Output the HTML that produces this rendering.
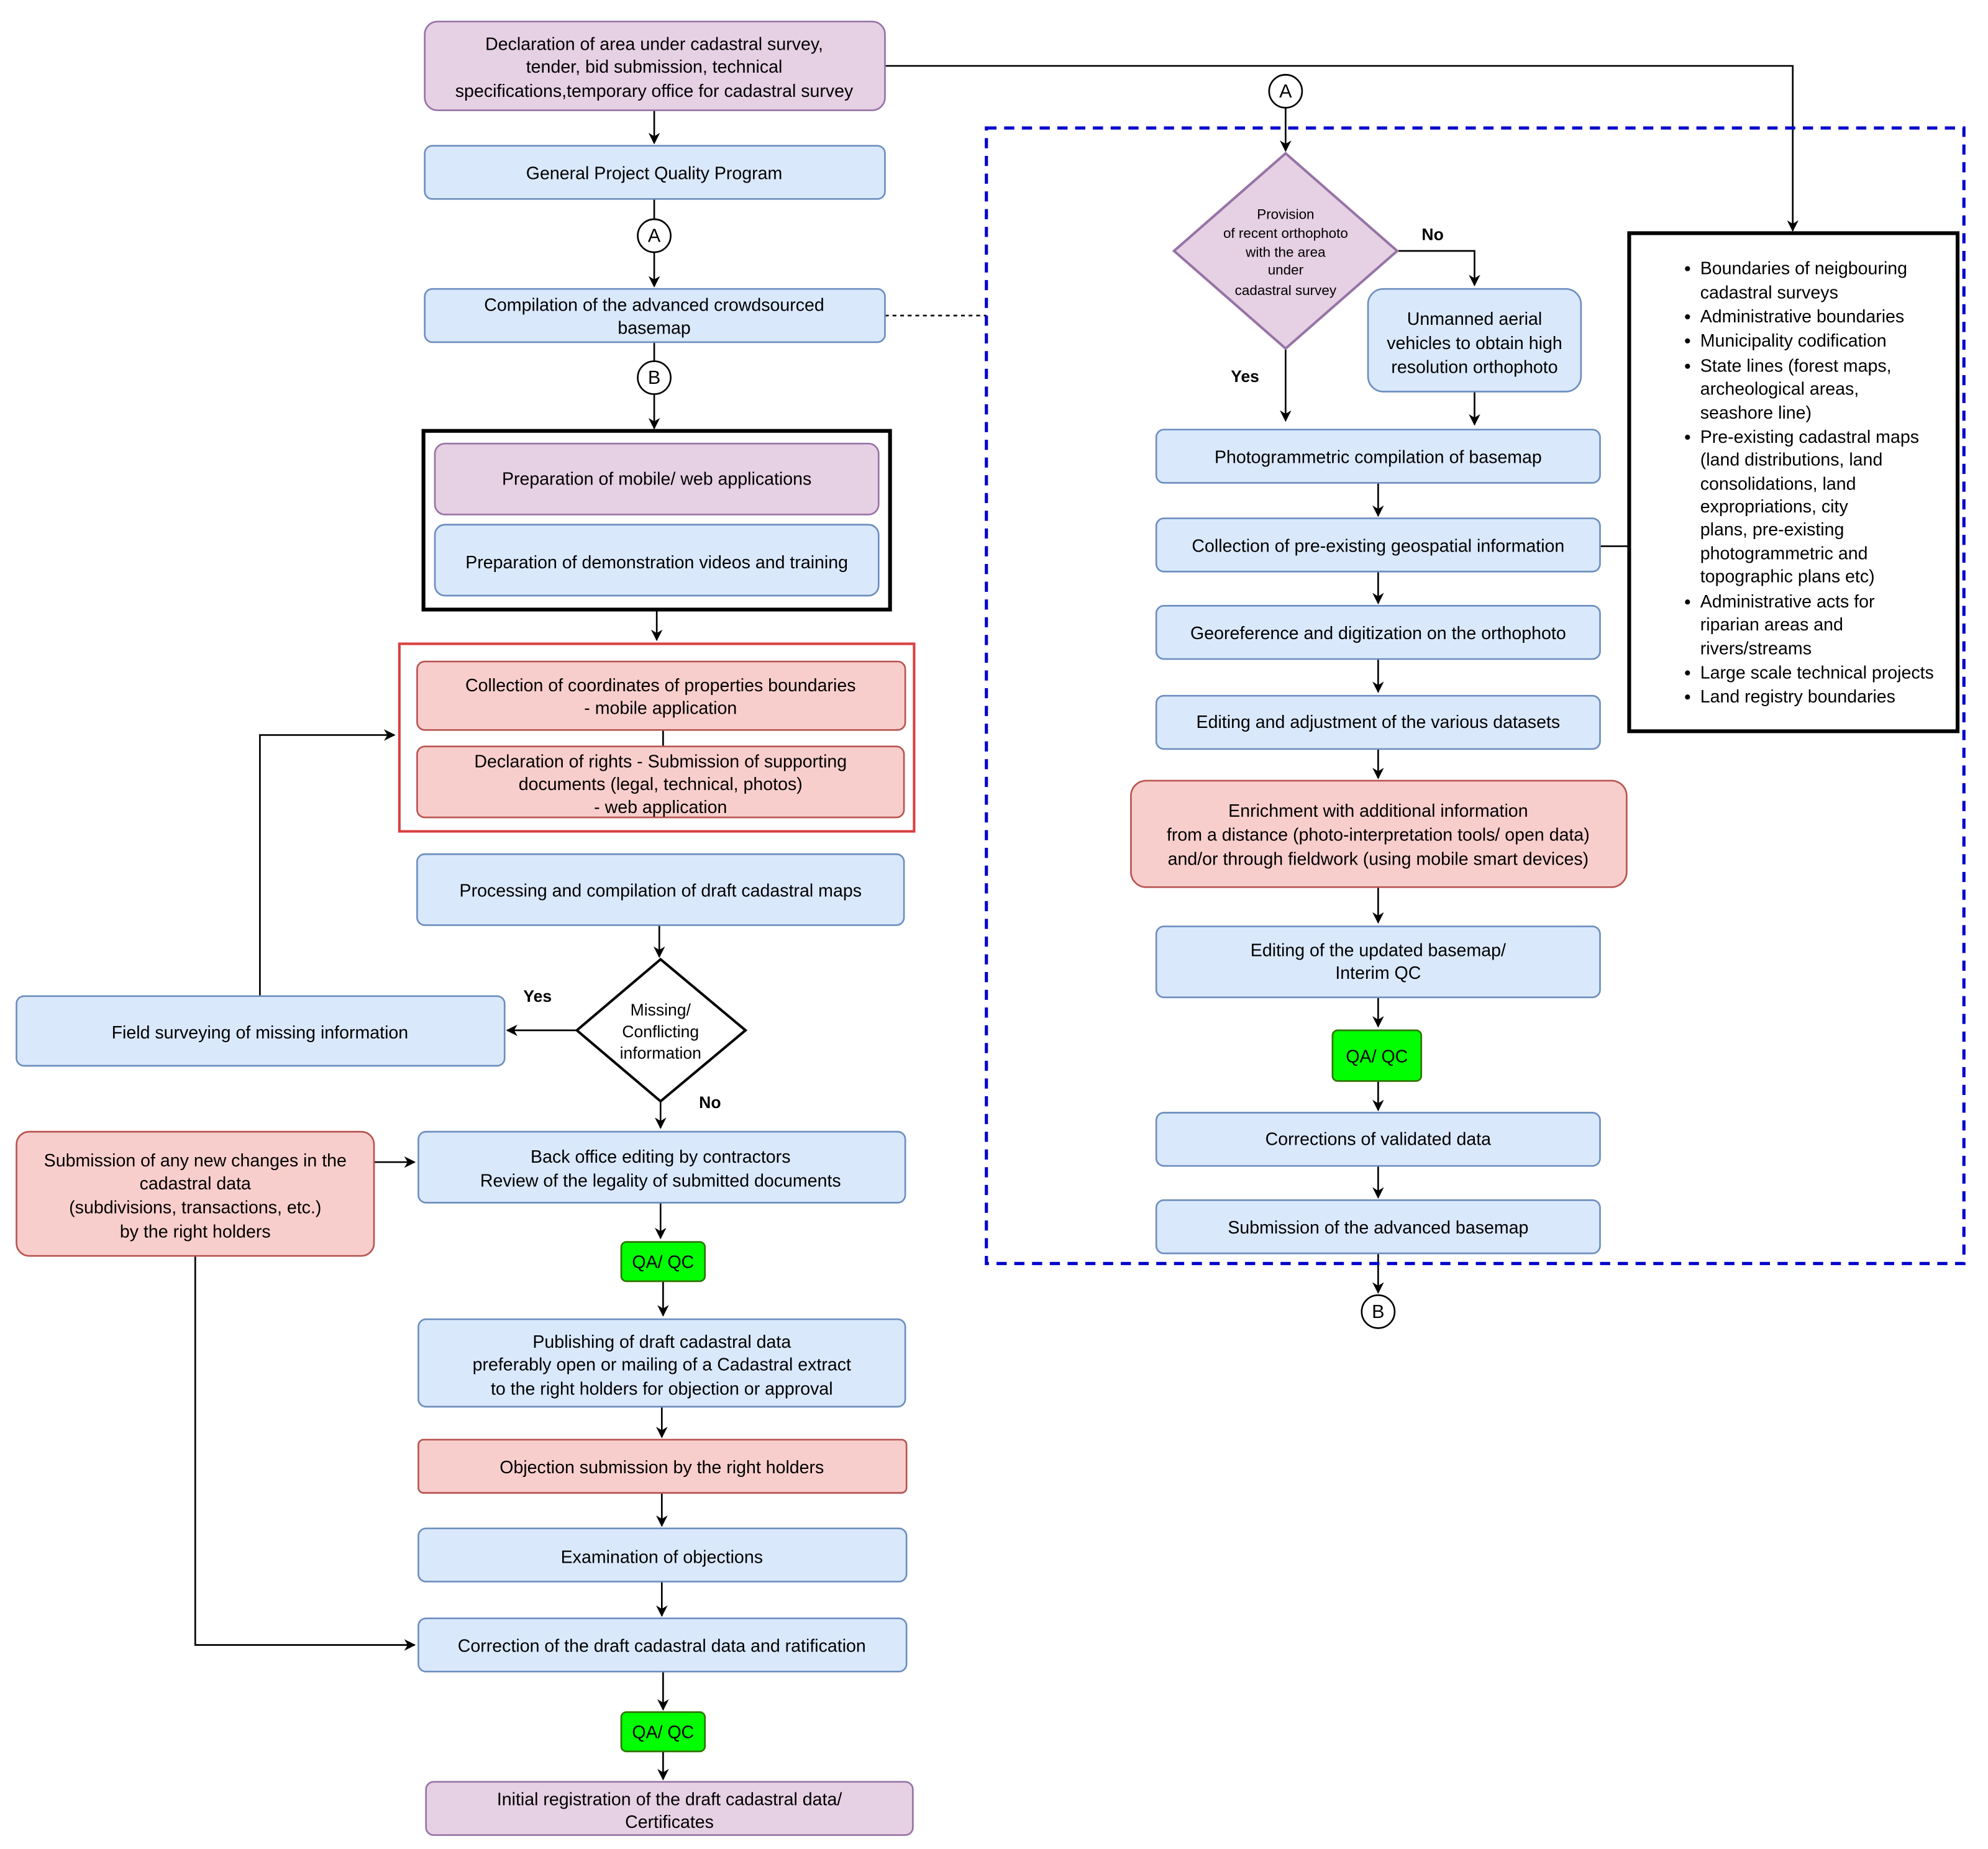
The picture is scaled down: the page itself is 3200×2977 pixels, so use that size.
<!DOCTYPE html>
<html><head><meta charset="utf-8"><style>html,body{margin:0;padding:0;background:#fff}svg{display:block}</style></head><body>
<svg width="3200" height="2977" viewBox="0 0 1568 1459" preserveAspectRatio="none" xmlns="http://www.w3.org/2000/svg" font-family="Liberation Sans, Arial, sans-serif" font-size="14">
<defs><marker id="ar" viewBox="0 0 10 10" refX="9" refY="5" markerWidth="7" markerHeight="7" orient="auto"><path d="M0,0L10,5L0,10L3,5z" fill="#000"/></marker></defs>
<g fill="none" stroke="#000" stroke-width="1.3">
<path d="M516,87V113" marker-end="url(#ar)"/>
<path d="M516,157V173"/><path d="M516,199V226" marker-end="url(#ar)"/>
<path d="M516,270V285"/><path d="M516,311V338" marker-end="url(#ar)"/>
<path d="M518,481V505" marker-end="url(#ar)"/>
<path d="M523,576V589"/>
<path d="M205,786V580H311" marker-end="url(#ar)"/>
<path d="M520,730V755" marker-end="url(#ar)"/>
<path d="M455,813H400" marker-end="url(#ar)"/>
<path d="M521,869V890" marker-end="url(#ar)"/>
<path d="M295,917H327" marker-end="url(#ar)"/>
<path d="M154,991V1298H327" marker-end="url(#ar)"/>
<path d="M521,949V977" marker-end="url(#ar)"/>
<path d="M523,1011V1038" marker-end="url(#ar)"/>
<path d="M522,1110V1134" marker-end="url(#ar)"/>
<path d="M522,1178V1204" marker-end="url(#ar)"/>
<path d="M522,1248V1275" marker-end="url(#ar)"/>
<path d="M523,1319V1349" marker-end="url(#ar)"/>
<path d="M523,1382V1404" marker-end="url(#ar)"/>
<path d="M698,52H1414V182" marker-end="url(#ar)"/>
<path d="M698,249H778" stroke-dasharray="3,3"/>
<path d="M1014,85V119" marker-end="url(#ar)"/>
<path d="M1102,198H1163V225" marker-end="url(#ar)"/>
<path d="M1014,275V332" marker-end="url(#ar)"/>
<path d="M1163,309V335" marker-end="url(#ar)"/>
<path d="M1087,381V407" marker-end="url(#ar)"/>
<path d="M1262,431H1285"/>
<path d="M1087,451V476" marker-end="url(#ar)"/>
<path d="M1087,520V546" marker-end="url(#ar)"/>
<path d="M1087,591V614" marker-end="url(#ar)"/>
<path d="M1087,700V728" marker-end="url(#ar)"/>
<path d="M1087,787V810" marker-end="url(#ar)"/>
<path d="M1087,853V876" marker-end="url(#ar)"/>
<path d="M1087,920V945" marker-end="url(#ar)"/>
<path d="M1087,989V1020" marker-end="url(#ar)"/>
</g>
<rect x="778" y="101" width="771" height="896" fill="none" stroke="#0000cc" stroke-width="2.5" stroke-dasharray="8,6"/>
<g stroke-width="1.3">
<rect x="335" y="17" width="363" height="70" rx="10" fill="#e6d0e3" stroke="#9673a6"/>
<rect x="335" y="115" width="363" height="42" rx="6" fill="#dae8fc" stroke="#6c8ebf"/>
<rect x="335" y="228" width="363" height="42" rx="6" fill="#dae8fc" stroke="#6c8ebf"/>
<rect x="334" y="340" width="368" height="141" fill="#fff" stroke="#000" stroke-width="3"/>
<rect x="343" y="350" width="350" height="56" rx="8" fill="#e6d0e3" stroke="#9673a6"/>
<rect x="343" y="414" width="350" height="56" rx="8" fill="#dae8fc" stroke="#6c8ebf"/>
<rect x="315" y="508" width="406" height="148" fill="none" stroke="#d94040" stroke-width="2"/>
<rect x="329" y="522" width="385" height="54" rx="6" fill="#f8cecc" stroke="#b85450"/>
<rect x="329" y="589" width="384" height="56" rx="6" fill="#f8cecc" stroke="#b85450"/>
<rect x="329" y="674" width="384" height="56" rx="6" fill="#dae8fc" stroke="#6c8ebf"/>
<path d="M521,757L588,813L521,869L455,813Z" fill="#fff" stroke="#000" stroke-width="2"/>
<rect x="13" y="786" width="385" height="55" rx="6" fill="#dae8fc" stroke="#6c8ebf"/>
<rect x="330" y="893" width="384" height="56" rx="6" fill="#dae8fc" stroke="#6c8ebf"/>
<rect x="13" y="893" width="282" height="98" rx="10" fill="#f8cecc" stroke="#b85450"/>
<rect x="490" y="980" width="66" height="31" rx="4" fill="#00ff00" stroke="#2d7600"/>
<rect x="330" y="1041" width="384" height="69" rx="6" fill="#dae8fc" stroke="#6c8ebf"/>
<rect x="330" y="1136" width="385" height="42" rx="4" fill="#f8cecc" stroke="#b85450"/>
<rect x="330" y="1206" width="385" height="42" rx="6" fill="#dae8fc" stroke="#6c8ebf"/>
<rect x="330" y="1277" width="385" height="42" rx="6" fill="#dae8fc" stroke="#6c8ebf"/>
<rect x="490" y="1351" width="66" height="31" rx="4" fill="#00ff00" stroke="#2d7600"/>
<rect x="336" y="1406" width="384" height="42" rx="6" fill="#e6d0e3" stroke="#9673a6"/>
<path d="M1014,121L1102,198L1014,275L926,198Z" fill="#e6d0e3" stroke="#9673a6" stroke-width="2"/>
<rect x="1079" y="228" width="168" height="81" rx="12" fill="#dae8fc" stroke="#6c8ebf"/>
<rect x="912" y="339" width="350" height="42" rx="6" fill="#dae8fc" stroke="#6c8ebf"/>
<rect x="912" y="409" width="350" height="42" rx="6" fill="#dae8fc" stroke="#6c8ebf"/>
<rect x="912" y="478" width="350" height="42" rx="6" fill="#dae8fc" stroke="#6c8ebf"/>
<rect x="912" y="549" width="350" height="42" rx="6" fill="#dae8fc" stroke="#6c8ebf"/>
<rect x="892" y="616" width="391" height="84" rx="12" fill="#f8cecc" stroke="#b85450"/>
<rect x="912" y="731" width="350" height="56" rx="6" fill="#dae8fc" stroke="#6c8ebf"/>
<rect x="1051" y="813" width="70" height="40" rx="4" fill="#00ff00" stroke="#2d7600"/>
<rect x="912" y="878" width="350" height="42" rx="6" fill="#dae8fc" stroke="#6c8ebf"/>
<rect x="912" y="947" width="350" height="42" rx="6" fill="#dae8fc" stroke="#6c8ebf"/>
<rect x="1285" y="184" width="259" height="393" fill="#fff" stroke="#000" stroke-width="3"/>
<circle cx="516" cy="186" r="13" fill="#fff" stroke="#000"/>
<circle cx="516" cy="298" r="13" fill="#fff" stroke="#000"/>
<circle cx="1014" cy="72" r="13" fill="#fff" stroke="#000"/>
<circle cx="1087" cy="1035" r="13" fill="#fff" stroke="#000"/>
</g>
<g text-anchor="middle" dominant-baseline="central" fill="#000">
<text x="516" y="186" font-size="15">A</text><text x="516" y="298" font-size="15">B</text>
<text x="1014" y="72" font-size="15">A</text><text x="1087" y="1035" font-size="15">B</text>
<text x="516" y="35">Declaration of area under cadastral survey,</text>
<text x="516" y="53">tender, bid submission, technical</text>
<text x="516" y="72">specifications,temporary office for cadastral survey</text>
<text x="516" y="137">General Project Quality Program</text>
<text x="516" y="241">Compilation of the advanced crowdsourced</text>
<text x="516" y="259">basemap</text>
<text x="518" y="378">Preparation of mobile/ web applications</text>
<text x="518" y="444">Preparation of demonstration videos and training</text>
<text x="521" y="541">Collection of coordinates of properties boundaries</text>
<text x="521" y="559">- mobile application</text>
<text x="521" y="601">Declaration of rights - Submission of supporting</text>
<text x="521" y="619">documents (legal, technical, photos)</text>
<text x="521" y="637">- web application</text>
<text x="521" y="703">Processing and compilation of draft cadastral maps</text>
<text x="521" y="797" font-size="13">Missing/</text>
<text x="521" y="814" font-size="13">Conflicting</text>
<text x="521" y="831" font-size="13">information</text>
<text x="424" y="786" font-size="13" font-weight="bold">Yes</text>
<text x="560" y="870" font-size="13" font-weight="bold">No</text>
<text x="205" y="815">Field surveying of missing information</text>
<text x="521" y="913">Back office editing by contractors</text>
<text x="521" y="932">Review of the legality of submitted documents</text>
<text x="154" y="916">Submission of any new changes in the</text>
<text x="154" y="934">cadastral data</text>
<text x="154" y="953">(subdivisions, transactions, etc.)</text>
<text x="154" y="972">by the right holders</text>
<text x="523" y="996">QA/ QC</text>
<text x="522" y="1059">Publishing of draft cadastral data</text>
<text x="522" y="1077">preferably open or mailing of a Cadastral extract</text>
<text x="522" y="1096">to the right holders for objection or approval</text>
<text x="522" y="1158">Objection submission by the right holders</text>
<text x="522" y="1229">Examination of objections</text>
<text x="522" y="1299">Correction of the draft cadastral data and ratification</text>
<text x="523" y="1367">QA/ QC</text>
<text x="528" y="1420">Initial registration of the draft cadastral data/</text>
<text x="528" y="1438">Certificates</text>
<g font-size="11"><text x="1014" y="169">Provision</text><text x="1014" y="184">of recent orthophoto</text><text x="1014" y="199">with the area</text><text x="1014" y="213">under</text><text x="1014" y="229">cadastral survey</text></g>
<text x="1130" y="185" font-size="13" font-weight="bold">No</text>
<text x="982" y="297" font-size="13" font-weight="bold">Yes</text>
<text x="1163" y="252">Unmanned aerial</text>
<text x="1163" y="271">vehicles to obtain high</text>
<text x="1163" y="290">resolution orthophoto</text>
<text x="1087" y="361">Photogrammetric compilation of basemap</text>
<text x="1087" y="431">Collection of pre-existing geospatial information</text>
<text x="1087" y="500">Georeference and digitization on the orthophoto</text>
<text x="1087" y="570">Editing and adjustment of the various datasets</text>
<text x="1087" y="640">Enrichment with additional information</text>
<text x="1087" y="659">from a distance (photo-interpretation tools/ open data)</text>
<text x="1087" y="678">and/or through fieldwork (using mobile smart devices)</text>
<text x="1087" y="750">Editing of the updated basemap/</text>
<text x="1087" y="768">Interim QC</text>
<text x="1086" y="834">QA/ QC</text>
<text x="1087" y="899">Corrections of validated data</text>
<text x="1087" y="969">Submission of the advanced basemap</text>
</g>
<g dominant-baseline="central" font-size="14">
<text x="1341" y="212">Boundaries of neigbouring</text>
<text x="1341" y="231">cadastral surveys</text>
<text x="1341" y="250">Administrative boundaries</text>
<text x="1341" y="269">Municipality codification</text>
<text x="1341" y="289">State lines (forest maps,</text>
<text x="1341" y="307">archeological areas,</text>
<text x="1341" y="326">seashore line)</text>
<text x="1341" y="345">Pre-existing cadastral maps</text>
<text x="1341" y="363">(land distributions, land</text>
<text x="1341" y="382">consolidations, land</text>
<text x="1341" y="400">expropriations, city</text>
<text x="1341" y="418">plans, pre-existing</text>
<text x="1341" y="437">photogrammetric and</text>
<text x="1341" y="455">topographic plans etc)</text>
<text x="1341" y="475">Administrative acts for</text>
<text x="1341" y="493">riparian areas and</text>
<text x="1341" y="512">rivers/streams</text>
<text x="1341" y="531">Large scale technical projects</text>
<text x="1341" y="550">Land registry boundaries</text>
<g fill="#000"><circle cx="1331" cy="212" r="2"/><circle cx="1331" cy="250" r="2"/><circle cx="1331" cy="269" r="2"/><circle cx="1331" cy="289" r="2"/><circle cx="1331" cy="345" r="2"/><circle cx="1331" cy="475" r="2"/><circle cx="1331" cy="531" r="2"/><circle cx="1331" cy="550" r="2"/></g>
</g>
</svg>
</body></html>
